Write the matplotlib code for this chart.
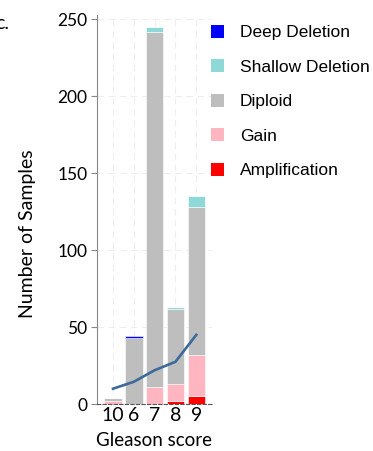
import matplotlib
matplotlib.use("Agg")
import matplotlib.pyplot as plt
from matplotlib.patches import Patch
import numpy as np

# Gleason score groups and copy-number counts
categories = ["10", "6", "7", "8", "9"]
amplification = [0, 0, 0, 2, 5]
gain = [2, 0, 11, 11, 27]
diploid = [2, 43, 231, 49, 96]
shallow_deletion = [0, 0, 3, 1, 7]
deep_deletion = [0, 1, 0, 0, 0]
trend = [10, 14.5, 22, 27.5, 45]

series = [
    ("Amplification", amplification, "#ff0000"),
    ("Gain", gain, "#ffb6c1"),
    ("Diploid", diploid, "#bebebe"),
    ("Shallow Deletion", shallow_deletion, "#8ed8d8"),
    ("Deep Deletion", deep_deletion, "#0000ff"),
]

fig = plt.figure(figsize=(3.73, 4.51), dpi=100)
ax = fig.add_axes([0.260, 0.104, 0.308, 0.863])

x = np.arange(len(categories))
bottom = np.zeros(len(categories))
for name, vals, color in series:
    ax.bar(x, vals, width=0.84, bottom=bottom, color=color,
           edgecolor="white", linewidth=0.4, zorder=2)
    bottom += np.array(vals)

# Trend line
ax.plot(x, trend, color="#3d6a99", linewidth=1.9, zorder=3)

ax.set_xlim(-0.77, 4.75)
ax.set_ylim(0, 253)
ax.set_yticks([0, 50, 100, 150, 200, 250])
ax.set_xticks(x)
ax.set_xticklabels(categories, fontfamily="Lato", fontsize=14)
ax.tick_params(axis="x", length=0, pad=2)
ax.tick_params(axis="y", labelsize=12.5, length=4, color="#888888", pad=3)
for lab in ax.get_yticklabels():
    lab.set_fontfamily("Lato")

ax.grid(True, color="#eeeeee", linestyle=(0, (6, 4)), linewidth=0.8, zorder=0)
ax.set_axisbelow(True)
for s in ["top", "right"]:
    ax.spines[s].set_visible(False)
ax.spines["left"].set_color("#888888")
ax.spines["bottom"].set_color("#555555")
ax.spines["bottom"].set_linestyle((0, (3, 2)))

ax.set_ylabel("Number of Samples", fontfamily="Lato", fontsize=14)
ax.yaxis.set_label_coords(-0.53, 0.437)
ax.set_xlabel("Gleason score", fontfamily="Lato", fontsize=13.5, labelpad=6)

# Legend (top to bottom: Deep Deletion ... Amplification)
handles = [Patch(facecolor=c, edgecolor="none", label=n) for n, v, c in series[::-1]]
fig.legend(handles=handles, loc="upper left", bbox_to_anchor=(0.566, 0.945),
           frameon=False, prop={"family": "Liberation Sans", "size": 12.5},
           handlelength=0.75, handleheight=0.75, handletextpad=0.92,
           labelspacing=1.1, borderpad=0, borderaxespad=0)

# Panel letter, mostly clipped at the left edge as in the source figure
fig.text(-0.012, 0.935, "c.", fontfamily="Lato", fontsize=14)

fig.savefig("out.png", dpi=100)
